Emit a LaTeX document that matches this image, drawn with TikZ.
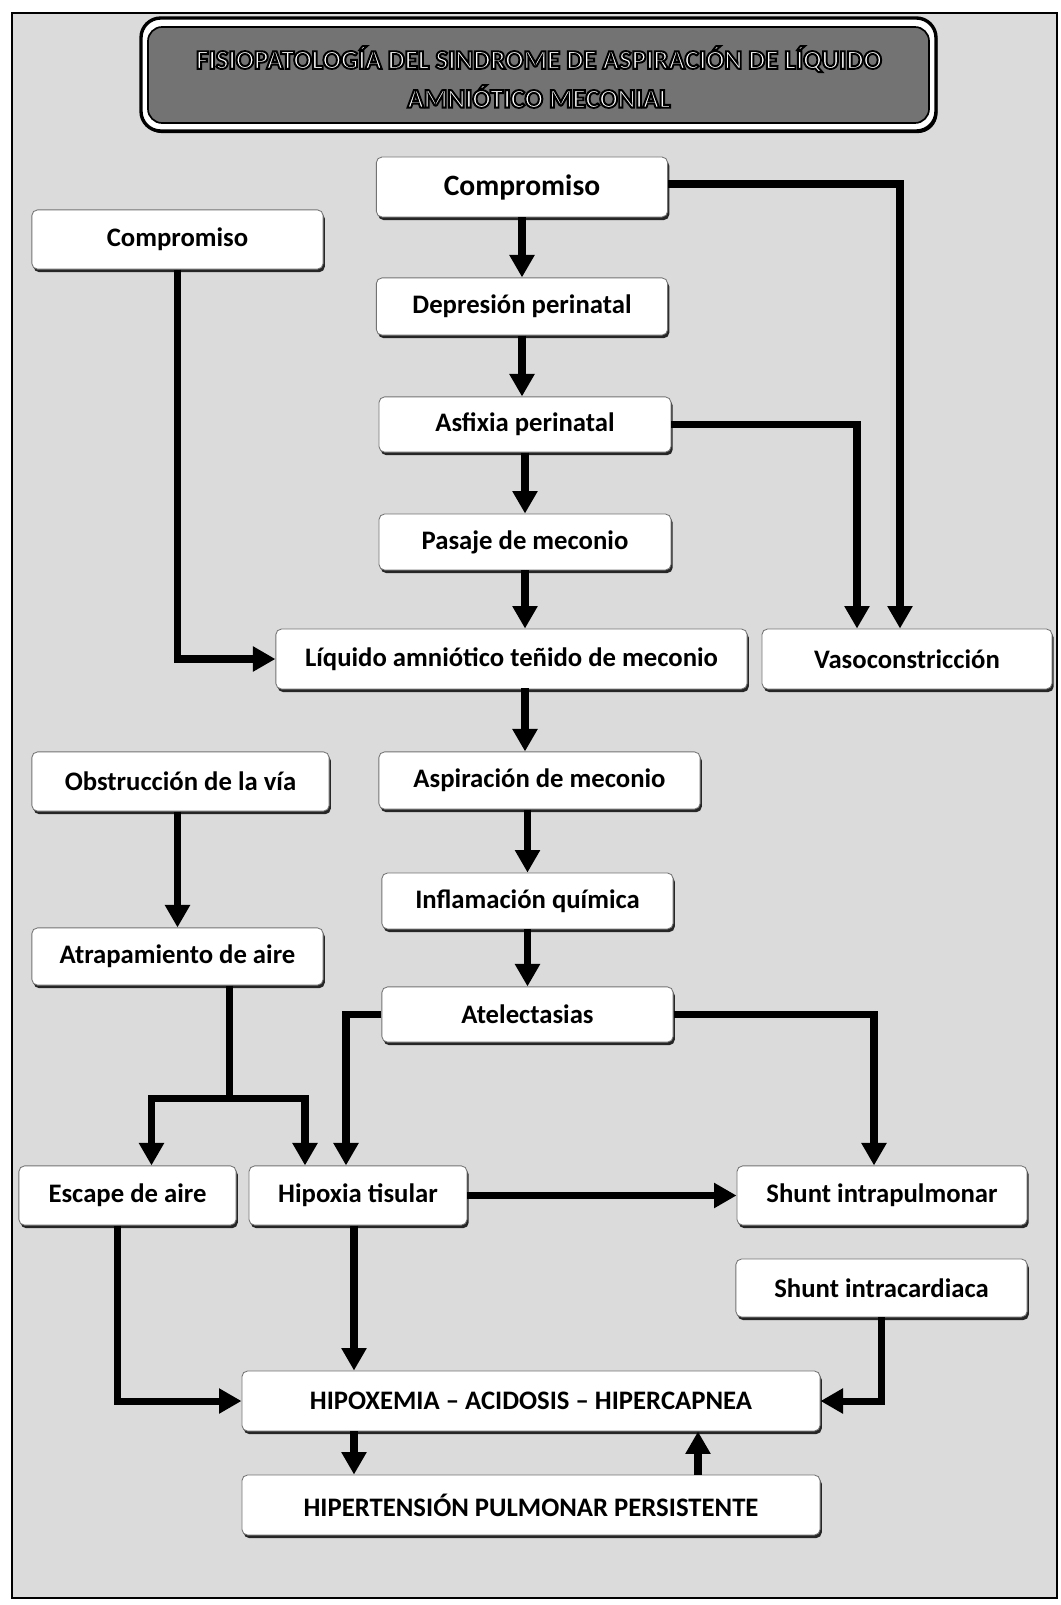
\documentclass[tikz,border=0pt]{standalone}
\usepackage{fontspec}
\setmainfont{Carlito}
\usetikzlibrary{arrows.meta,positioning,calc,shadows}

% outlined letters for the heading
\newcommand{\hollow}[1]{\special{pdf:code 0 G 2 Tr 1.4 w}#1\special{pdf:code 0 Tr}}

\tikzset{
  box/.style={draw=black!55, fill=white, rounded corners=4pt, line width=0.6pt,
    inner sep=0pt, font=\bfseries\fontsize{19}{22}\selectfont,
    drop shadow={shadow xshift=1.2pt, shadow yshift=-2.2pt, fill=black!85, opacity=1}},
  arr/.style={line width=5pt, -{Triangle[length=16pt,width=17pt]}},
  line/.style={line width=5pt},
}

\begin{document}
\begin{tikzpicture}[x=0.025cm, y=-0.025cm]
  \useasboundingbox (0,0) rectangle (1060,1605);
  \draw[fill=black!14, line width=1pt] (12,13) rectangle (1057,1598);

  % Heading
  \draw[fill=white, line width=2.4pt, rounded corners=14pt,
    drop shadow={shadow xshift=1pt, shadow yshift=-1.5pt, fill=black, opacity=1}] (141,18) rectangle (936,131);
  \draw[fill=black!55, line width=1.2pt, rounded corners=10pt] (148,27) rectangle (929,123);
  \node[text=white, align=center, font=\bfseries\fontsize{19.2}{27.7}\selectfont] (ttl) at (539,77)
    {\hollow{FISIOPATOLOGÍA DEL SINDROME DE ASPIRACIÓN DE LÍQUIDO}\\\hollow{AMNIÓTICO MECONIAL}};

  % Define boxes
  \node[box, minimum width=7.28cm, minimum height=1.5cm, font=\bfseries\fontsize{21}{24}\selectfont] (cmpA) at (522,187) {Compromiso};
  \node[box, minimum width=7.28cm, minimum height=1.48cm] (cmpB) at (177.5,239.5) {Compromiso};
  \node[box, minimum width=7.28cm, minimum height=1.43cm] (depr) at (522,306.5) {Depresión perinatal};
  \node[box, minimum width=7.3cm, minimum height=1.38cm] (asfx) at (525,424.5) {Asfixia perinatal};
  \node[box, minimum width=7.3cm, minimum height=1.4cm] (pasaje) at (525,542) {Pasaje de meconio};
  \node[box, minimum width=11.78cm, minimum height=1.5cm] (liquido) at (511.5,659) {Líquido amniótico teñido de meconio};
  \node[box, minimum width=7.25cm, minimum height=1.5cm] (vaso) at (907,659) {Vasoconstricción};
  \node[box, minimum width=7.43cm, minimum height=1.48cm] (obstr) at (180.5,781.5) {Obstrucción de la vía};
  \node[box, minimum width=8.03cm, minimum height=1.43cm] (aspir) at (539.5,780.5) {Aspiración de meconio};
  \node[box, minimum width=7.28cm, minimum height=1.4cm] (infl) at (527.5,901) {Inflamación química};
  \node[box, minimum width=7.28cm, minimum height=1.43cm] (atrap) at (177.5,956.5) {Atrapamiento de aire};
  \node[box, minimum width=7.28cm, minimum height=1.38cm] (atel) at (527.5,1014.5) {Atelectasias};
  \node[box, minimum width=5.43cm, minimum height=1.48cm] (escape) at (127.5,1195.5) {Escape de aire};
  \node[box, minimum width=5.45cm, minimum height=1.48cm] (hipox) at (358,1195.5) {Hipoxia tisular};
  \node[box, minimum width=7.25cm, minimum height=1.48cm] (shuntp) at (882,1195.5) {Shunt intrapulmonar};
  \node[box, minimum width=7.28cm, minimum height=1.45cm] (shuntc) at (881.5,1288) {Shunt intracardiaca};
  \node[box, minimum width=14.45cm, minimum height=1.5cm] (hipoxemia) at (531,1401) {HIPOXEMIA – ACIDOSIS – HIPERCAPNEA};
  \node[box, minimum width=14.45cm, minimum height=1.5cm] (hipert) at (531,1505) {HIPERTENSIÓN PULMONAR PERSISTENTE};

  % Draw arrows
  \draw[arr] (cmpA) -- (depr);
  \draw[arr] (depr) -- (depr |- asfx.north);
  \draw[arr] (asfx) -- (pasaje);
  \draw[arr] (pasaje) -- (pasaje |- liquido.north);
  \draw[arr] (aspir.north -| pasaje) ++(0,-63) -- (aspir.north -| pasaje);
  \draw[arr] (aspir.south -| infl) -- (infl);
  \draw[arr] (infl) -- (atel);
  \draw[arr] ($(cmpA.east)+(0,-3)$) -| ($(vaso.north)+(-7,0)$);
  \draw[arr] (asfx.east) -| ($(vaso.north)+(-50,0)$);
  \draw[arr] (cmpB.south) |- (liquido.west);
  \draw[arr] (obstr.south -| atrap) -- (atrap);
  \draw[line] ($(atrap.south)+(52,0)$) -- ++(0,113) coordinate (br);
  \draw[arr] ($(br)+(2.5,0)$) -| ($(escape.north)+(24,0)$);
  \draw[arr] ($(br)+(-2.5,0)$) -| ($(hipox.north)+(-53,0)$);
  \draw[arr] (atel.west) -| ($(hipox.north)+(-12,0)$);
  \draw[arr] (atel.east) -| ($(shuntp.north)+(-8,0)$);
  \draw[arr] (hipox.east) -- (shuntp.west);
  \draw[arr] ($(escape.south)+(-10,0)$) |- (hipoxemia.west);
  \draw[arr] ($(hipox.south)+(-4,0)$) -- ($(hipox.south |- hipoxemia.north)+(-4,0)$);
  \draw[arr] (shuntc.south) |- (hipoxemia.east);
  \draw[arr] ($(hipox.south |- hipoxemia.south)+(-4,0)$) -- ($(hipox.south |- hipert.north)+(-4,0)$);
  \draw[arr] ($(hipert.north)+(167,0)$) -- ($(hipoxemia.south)+(167,0)$);
\end{tikzpicture}
\end{document}
